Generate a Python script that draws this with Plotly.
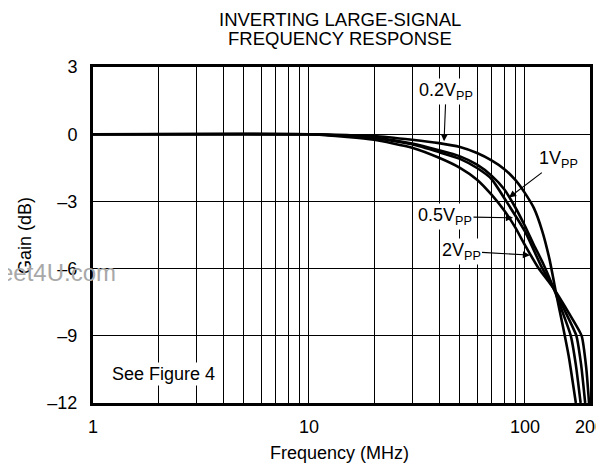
import math
import plotly.graph_objects as go

# gain curves (frequency in MHz, gain in dB)
freq_02 = [1, 10, 15, 20, 30, 40, 50, 60, 70, 80, 90, 100, 110, 120, 130, 140, 150, 160, 172]
gain_02 = [0, 0, -0.04, -0.08, -0.25, -0.4, -0.57, -0.84, -1.17, -1.55, -2.03, -2.63, -3.3, -4.3, -5.6, -7.2, -8.6, -10.0, -12.0]

freq_1 = [1, 10, 15, 20, 30, 40, 50, 60, 70, 80, 90, 100, 110, 121, 136, 150, 163, 172, 181]
gain_1 = [0, 0, -0.07, -0.15, -0.42, -0.72, -0.99, -1.36, -1.85, -2.45, -3.25, -4.1, -4.95, -5.75, -6.9, -8.0, -9.0, -10.3, -12.0]

freq_05 = [1, 10, 15, 20, 30, 40, 50, 60, 70, 82, 100, 119, 136, 155, 173, 182, 190]
gain_05 = [0, 0, -0.08, -0.17, -0.45, -0.8, -1.1, -1.51, -2.0, -3.0, -4.34, -5.9, -6.9, -8.0, -9.0, -10.3, -12.0]

freq_2 = [1, 10, 15, 20, 30, 40, 50, 60, 70, 80, 90, 100, 115, 136, 160, 183, 192, 198]
gain_2 = [0, 0, -0.12, -0.25, -0.6, -1.05, -1.5, -2.03, -2.7, -3.4, -4.15, -4.95, -5.95, -6.9, -8.0, -9.0, -10.4, -12.0]

x_major = [1, 10, 100, 200]
x_labels = ["1", "10", "100", "200"]
x_minor = [2, 3, 4, 5, 6, 7, 8, 9, 20, 30, 40, 50, 60, 70, 80, 90]
y_ticks = [3, 0, -3, -6, -9, -12]
y_labels = ["3", "0", "–3", "–6", "–9", "–12"]

FONT = "Liberation Sans, Arial, sans-serif"

fig = go.Figure()
for f, g in [(freq_02, gain_02), (freq_1, gain_1), (freq_05, gain_05), (freq_2, gain_2)]:
    fig.add_trace(go.Scatter(x=f, y=g, mode="lines",
                             line=dict(color="black", width=2.6, shape="spline", smoothing=0.5),
                             showlegend=False, hoverinfo="skip"))

fig.update_xaxes(
    type="log", range=[0, 2.30105], automargin=False,
    tickvals=x_major, ticktext=x_labels, ticklabeloverflow="allow",
    showgrid=True, gridcolor="black", gridwidth=1,
    minor=dict(tickvals=x_minor, showgrid=True, gridcolor="black", gridwidth=1, ticks=""),
    showline=True, linecolor="black", linewidth=3, mirror=True,
    zeroline=False, ticks="", ticklabelstandoff=5,
    tickfont=dict(size=18, color="black"),
)
fig.update_yaxes(
    range=[-12, 3], automargin=False, tickvals=y_ticks, ticktext=y_labels,
    showgrid=True, gridcolor="black", gridwidth=1,
    showline=True, linecolor="black", linewidth=3, mirror=True,
    zeroline=False, ticks="", ticklabelstandoff=9,
    tickfont=dict(size=18, color="black"),
)

def lx(f):
    return math.log10(f)

notes = [
    # label, tip freq, tip gain, ax, ay
    ("0.2V<sub>PP</sub>", 42.2, -0.32, 2, -50),
    ("1V<sub>PP</sub>", 84.3, -2.83, 50, -38),
    ("0.5V<sub>PP</sub>", 88.0, -3.73, -68, -1),
    ("2V<sub>PP</sub>", 105.5, -5.4, -69, -4),
]
for text, f, g, ax, ay in notes:
    fig.add_annotation(x=lx(f), y=g, xref="x", yref="y", text=text, showarrow=True,
                       ax=ax, ay=ay, arrowhead=2, arrowsize=1.3, arrowwidth=1.1,
                       arrowcolor="black", bgcolor="white", borderpad=1,
                       font=dict(size=18, color="black", family=FONT))

fig.add_annotation(x=lx(2.11), y=-10.7, xref="x", yref="y", text="See Figure 4",
                   showarrow=False, bgcolor="white", borderpad=1,
                   font=dict(size=18, color="black", family=FONT))

# title lines, axis titles and watermark
def paper_note(x, y, text, size=18, color="black", **kw):
    fig.add_annotation(x=x, y=y, xref="paper", yref="paper", text=text, showarrow=False,
                       xanchor=kw.pop("xanchor", "center"), yanchor="middle",
                       font=dict(size=size, color=color, family=FONT), **kw)

paper_note(0.496, 1.140, "INVERTING LARGE-SIGNAL", size=18.5)
paper_note(0.496, 1.085, "FREQUENCY RESPONSE", size=18.5)
paper_note(0.496, -0.149, "Frequency (MHz)")
paper_note(-0.137, 0.5, "Gain (dB)", textangle=-90)
paper_note((118 - 93) / 497, (403 - 272) / 336, "eet4U.com", size=24, color="#a8a8a8",
           xanchor="right")

# the page body adds an 8px offset, so the figure is 8px smaller than the window
fig.update_layout(
    width=596, height=460,
    margin=dict(l=85, r=14, t=59, b=65),
    paper_bgcolor="white", plot_bgcolor="white",
    font=dict(family=FONT, size=18, color="black"),
)

fig.write_html("out.html")
